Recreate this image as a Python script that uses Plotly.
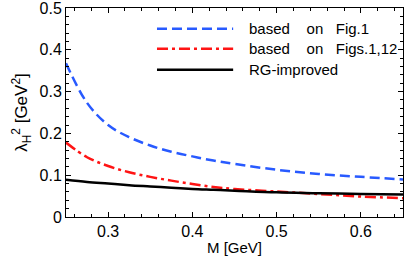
import plotly.graph_objects as go

# Data
M = [0.25, 0.275, 0.30, 0.325, 0.35, 0.375, 0.40, 0.425, 0.45, 0.50, 0.55, 0.60, 0.65]
fig1 = [0.368, 0.273, 0.220, 0.191, 0.171, 0.156, 0.145, 0.135, 0.127, 0.113, 0.103, 0.096, 0.090]
figs1_12 = [0.178, 0.143, 0.122, 0.107, 0.096, 0.087, 0.079, 0.072, 0.067, 0.061, 0.055, 0.049, 0.045]
rg_improved = [0.089, 0.084, 0.080, 0.076, 0.073, 0.070, 0.067, 0.065, 0.063, 0.059, 0.057, 0.055, 0.054]

x_tick_vals = [0.3, 0.4, 0.5, 0.6]
x_tick_text = ["0.3", "0.4", "0.5", "0.6"]
y_tick_vals = [0, 0.1, 0.2, 0.3, 0.4, 0.5]
y_tick_text = ["0", "0.1", "0.2", "0.3", "0.4", "0.5"]

legend_labels = ["based\u00a0\u00a0\u00a0\u00a0on\u00a0\u00a0\u00a0Fig.1",
                 "based\u00a0\u00a0\u00a0\u00a0on\u00a0\u00a0\u00a0Figs.1,12",
                 "RG-improved"]

BLUE = "rgb(40,90,255)"
RED = "rgb(255,20,20)"
BLACK = "black"
FONT = "Liberation Sans, Arial, sans-serif"

fig = go.Figure()
fig.add_trace(go.Scatter(x=M, y=fig1, mode="lines", line=dict(color=BLUE, width=2.5, dash="10px,5px", shape="spline"), showlegend=False))
fig.add_trace(go.Scatter(x=M, y=figs1_12, mode="lines", line=dict(color=RED, width=2.5, dash="11px,4px,3px,4px", shape="spline"), showlegend=False))
fig.add_trace(go.Scatter(x=M, y=rg_improved, mode="lines", line=dict(color=BLACK, width=2.5, shape="spline"), showlegend=False))

# manual legend
styles = [(BLUE, "10px,5px"), (RED, "11px,4px,3px,4px"), (BLACK, "solid")]
rows = [0.901, 0.805, 0.704]
for (col, dash), yv, lab in zip(styles, rows, legend_labels):
    fig.add_shape(type="line", xref="paper", yref="paper", x0=0.270, x1=0.496, y0=yv, y1=yv,
                  line=dict(color=col, width=2.5, dash=dash))
    fig.add_annotation(xref="paper", yref="paper", x=0.537, y=yv, text=lab, showarrow=False,
                       xanchor="left", yanchor="middle", font=dict(size=15, color="black", family=FONT))

axis_common = dict(showline=True, linecolor="black", linewidth=1, mirror="ticks", ticks="inside",
                   ticklen=5, tickcolor="black", showgrid=False, zeroline=False, automargin=False,
                   ticklabeloverflow="allow",
                   tickfont=dict(size=16, color="black", family=FONT))

fig.update_xaxes(range=[0.25, 0.65], tickmode="array", tickvals=x_tick_vals, ticktext=x_tick_text,
                 minor=dict(dtick=0.02, tick0=0, ticks="inside", ticklen=3, tickcolor="black"),
                 title=dict(text="M [GeV]", font=dict(size=15, color="black", family=FONT), standoff=4),
                 **axis_common)
fig.update_yaxes(range=[0, 0.5], tickmode="array", tickvals=y_tick_vals, ticktext=y_tick_text,
                 minor=dict(dtick=0.02, tick0=0, ticks="inside", ticklen=3, tickcolor="black"),
                 title=dict(text="λ<sub>H</sub><sup>2</sup> [GeV<sup>2</sup>]", font=dict(size=17, color="black", family=FONT), standoff=7),
                 **axis_common)

fig.update_layout(template="none", width=404, height=256, margin=dict(l=66, r=1, t=8, b=39),
                  plot_bgcolor="white", paper_bgcolor="white",
                  font=dict(family=FONT, color="black"))

fig.write_html("out.html", config={"displayModeBar": False},
               post_script="document.body.style.margin='0';")
